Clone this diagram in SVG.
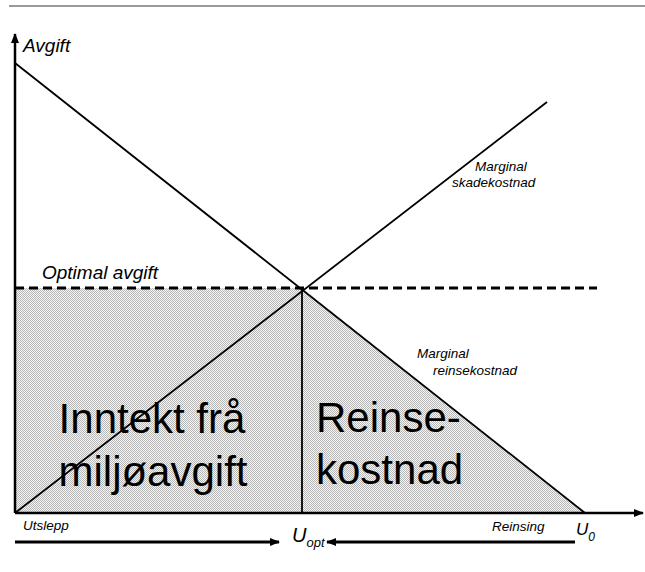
<svg xmlns="http://www.w3.org/2000/svg" width="645" height="572" viewBox="0 0 645 572">
<style>
.ln{stroke:#000;stroke-width:1.8;fill:none}
.ax{stroke:#000;stroke-width:2.5;fill:none}
.t{font-family:"Liberation Sans",Arial,sans-serif;fill:#000}
.it{font-style:italic}
.sm{font-size:13.5px}
.big{font-size:42px}
</style>
<defs>
<pattern id="chk" width="2" height="2" patternUnits="userSpaceOnUse">
<rect width="2" height="2" fill="#f6f6f6"/>
<rect width="1" height="1" fill="#b6b6b6"/>
<rect x="1" y="1" width="1" height="1" fill="#b6b6b6"/>
</pattern>
<marker id="ah" markerWidth="10" markerHeight="8" refX="9" refY="4" orient="auto" markerUnits="userSpaceOnUse">
<path d="M0,0 L10,4 L0,8 Z" fill="#000"/>
</marker>
</defs>
<rect width="645" height="572" fill="#fff"/>
<line x1="9" y1="6" x2="645" y2="6" stroke="#777" stroke-width="1.5"/>
<g id="areas">
<polygon points="15,288 302,288 585,513 15,513" fill="url(#chk)"/>
</g>
<g id="connectors">
<line class="ax" x1="15" y1="513" x2="15" y2="34" marker-end="url(#ah)"/>
<line class="ax" x1="15" y1="513" x2="643" y2="513" marker-end="url(#ah)"/>
<line class="ln" x1="15" y1="63" x2="585" y2="513"/>
<line class="ln" x1="15" y1="513" x2="547" y2="102"/>
<line x1="15" y1="288" x2="597" y2="288" stroke="#000" stroke-width="3" stroke-dasharray="9,5"/>
<line class="ln" x1="302" y1="288" x2="302" y2="513"/>
<line x1="15" y1="542" x2="279" y2="542" stroke="#000" stroke-width="3" marker-end="url(#ah)"/>
<line x1="575" y1="542" x2="327" y2="542" stroke="#000" stroke-width="3" marker-end="url(#ah)"/>
</g>
<g id="labels">
<text class="t it" x="23" y="52" font-size="19">Avgift</text>
<text class="t it" x="42" y="279" font-size="19">Optimal avgift</text>
<text class="t it sm" x="475" y="171">Marginal</text>
<text class="t it sm" x="452" y="187">skadekostnad</text>
<text class="t it sm" x="417" y="358">Marginal</text>
<text class="t it sm" x="433" y="375">reinsekostnad</text>
<text class="t it sm" x="23" y="530">Utslepp</text>
<text class="t it sm" x="492" y="531">Reinsing</text>
<text class="t it" x="292" y="542" font-size="20">U<tspan font-size="13" dy="5">opt</tspan></text>
<text class="t it" x="576" y="535" font-size="17">U<tspan font-size="12" dy="6">0</tspan></text>
</g>
<g id="node-inntekt">
<text class="t big" x="152" y="433" text-anchor="middle">Inntekt frå</text>
<text class="t big" x="153" y="486" text-anchor="middle">miljøavgift</text>
</g>
<g id="node-reinse">
<text class="t big" x="316" y="432">Reinse-</text>
<text class="t big" x="316" y="484">kostnad</text>
</g>
</svg>
